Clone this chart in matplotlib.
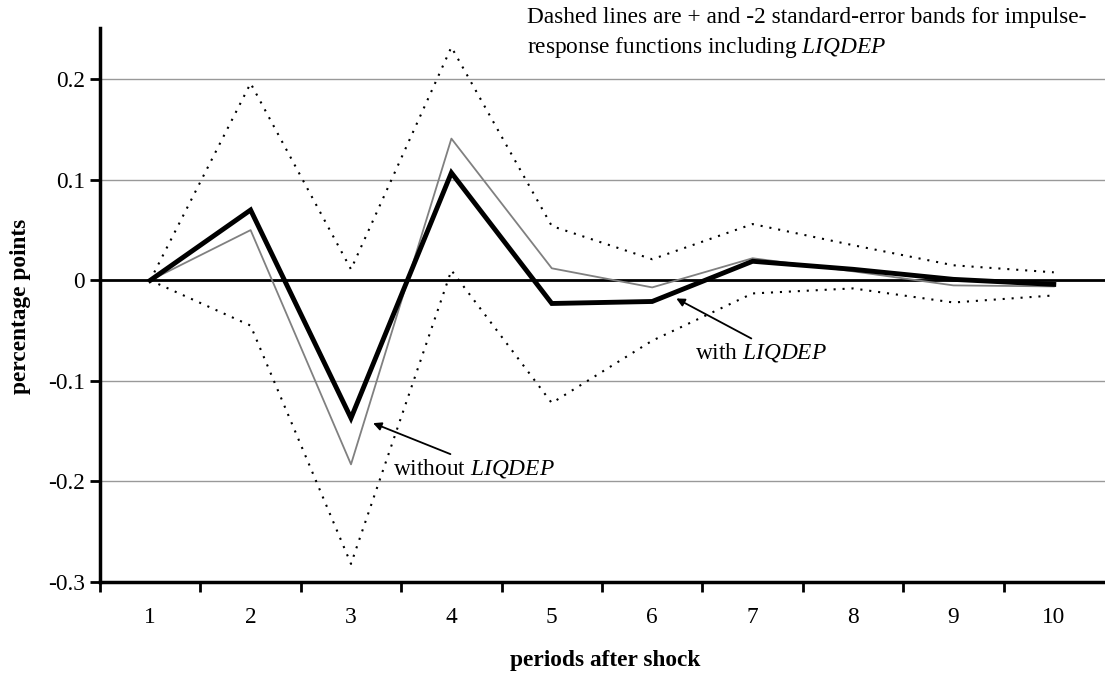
import matplotlib
matplotlib.use("Agg")
import matplotlib.pyplot as plt

plt.rcParams["font.family"] = ["Liberation Serif", "DejaVu Serif"]
plt.rcParams["mathtext.fontset"] = "custom"
plt.rcParams["mathtext.rm"] = "Liberation Serif"
plt.rcParams["mathtext.it"] = "Liberation Serif:italic"

# data
periods = [1, 2, 3, 4, 5, 6, 7, 8, 9, 10]
with_liqdep = [0.0, 0.070, -0.137, 0.107, -0.023, -0.021, 0.019, 0.011, 0.001, -0.004]
without_liqdep = [0.0, 0.050, -0.183, 0.141, 0.012, -0.007, 0.022, 0.009, -0.005, -0.006]
upper_band = [0.0, 0.196, 0.011, 0.232, 0.054, 0.021, 0.056, 0.035, 0.015, 0.008]
lower_band = [0.0, -0.045, -0.282, 0.010, -0.122, -0.060, -0.013, -0.008, -0.022, -0.015]
y_ticks = [-0.3, -0.2, -0.1, 0, 0.1, 0.2]
y_labels = ["-0.3", "-0.2", "-0.1", "0", "0.1", "0.2"]

FS = 16.8

fig = plt.figure(figsize=(11.05, 6.73), dpi=100)
ax = fig.add_axes([100 / 1105, 91 / 673, 1005 / 1105, 554 / 673])

ax.set_xlim(0.5, 10.51)
ax.set_ylim(-0.3, 0.251)

# gridlines
for v in [-0.2, -0.1, 0.1, 0.2]:
    ax.axhline(v, color="#999999", lw=1.0, zorder=1)
ax.axhline(0, color="black", lw=2.0, zorder=2)

ax.plot(periods, upper_band, color="black", lw=1.5, ls=(0, (1, 3.3)), zorder=3)
ax.plot(periods, lower_band, color="black", lw=1.5, ls=(0, (1, 3.3)), zorder=3)
ax.plot(periods, without_liqdep, color="#808080", lw=1.3, zorder=4)
ax.plot(periods, with_liqdep, color="black", lw=3.5, zorder=5, solid_joinstyle="miter")

# spines
for s in ["top", "right"]:
    ax.spines[s].set_visible(False)
ax.spines["left"].set_linewidth(2.5)
ax.spines["bottom"].set_linewidth(2.5)

ax.set_yticks(y_ticks)
ax.set_yticklabels(y_labels, fontsize=FS)
ax.tick_params(axis="y", length=7, width=2, pad=4)

# x ticks at category boundaries, labels at centres
ax.set_xticks([p + 0.5 for p in periods[:-1]] + [0.5])
ax.set_xticklabels([])
ax.set_xticks(periods, minor=True)
ax.set_xticklabels([str(p) for p in periods], minor=True, fontsize=FS)
ax.tick_params(axis="x", which="major", length=7, width=2)
ax.tick_params(axis="x", which="minor", length=0, pad=18)

ax.set_ylabel("percentage points", fontsize=FS, fontweight="bold", va="center")
ax.yaxis.set_label_coords(-0.079, 0.498)
ax.set_xlabel("periods after shock", fontsize=FS, fontweight="bold", va="center")
ax.xaxis.set_label_coords(0.5025, -0.141)

ax.annotate("without $\\it{LIQDEP}$", xy=(3.22, -0.142), xytext=(3.42, -0.187),
            fontsize=FS, va="center", ha="left",
            arrowprops=dict(arrowstyle="-|>", color="black", lw=1.3,
                            shrinkA=0, shrinkB=0, mutation_scale=12,
                            relpos=(0.45, 0.85)))
ax.annotate("with $\\it{LIQDEP}$", xy=(6.24, -0.018), xytext=(6.43, -0.072),
            fontsize=FS, va="center", ha="left",
            arrowprops=dict(arrowstyle="-|>", color="black", lw=1.3,
                            shrinkA=0, shrinkB=0, mutation_scale=12,
                            relpos=(0.48, 0.95)))

fig.text(527 / 1105, 1 - 18 / 673,
         "Dashed lines are + and -2 standard-error bands for impulse-",
         fontsize=FS, ha="left", va="center")
fig.text(527 / 1105, 1 - 47 / 673,
         "response functions including $\\it{LIQDEP}$",
         fontsize=FS, ha="left", va="center")

fig.savefig("out.png", dpi=100)
